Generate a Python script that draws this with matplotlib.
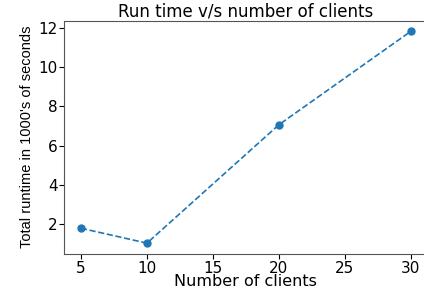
import matplotlib.pyplot as plt

clients = [5, 10, 20, 30]
runtime = [1.8, 1.04, 7.07, 11.83]

fig = plt.figure(figsize=(4.24, 2.91), dpi=100)
ax = fig.add_axes([0.152, 0.128, 0.856, 0.801])

ax.plot(clients, runtime, "o--", color="tab:blue", markersize=5, linewidth=1.2)

ax.set_title("Run time v/s number of clients", fontsize=12, pad=2)
ax.set_xlabel("Number of clients", fontsize=11.5, labelpad=-1)
ax.set_ylabel("Total runtime in 1000's of seconds", fontsize=10.5, labelpad=3,
              family=["Liberation Sans", "DejaVu Sans"])
ax.tick_params(labelsize=11, pad=1.5)
for s in ax.spines.values():
    s.set_color("#555555")

fig.savefig("out.png", dpi=100)
